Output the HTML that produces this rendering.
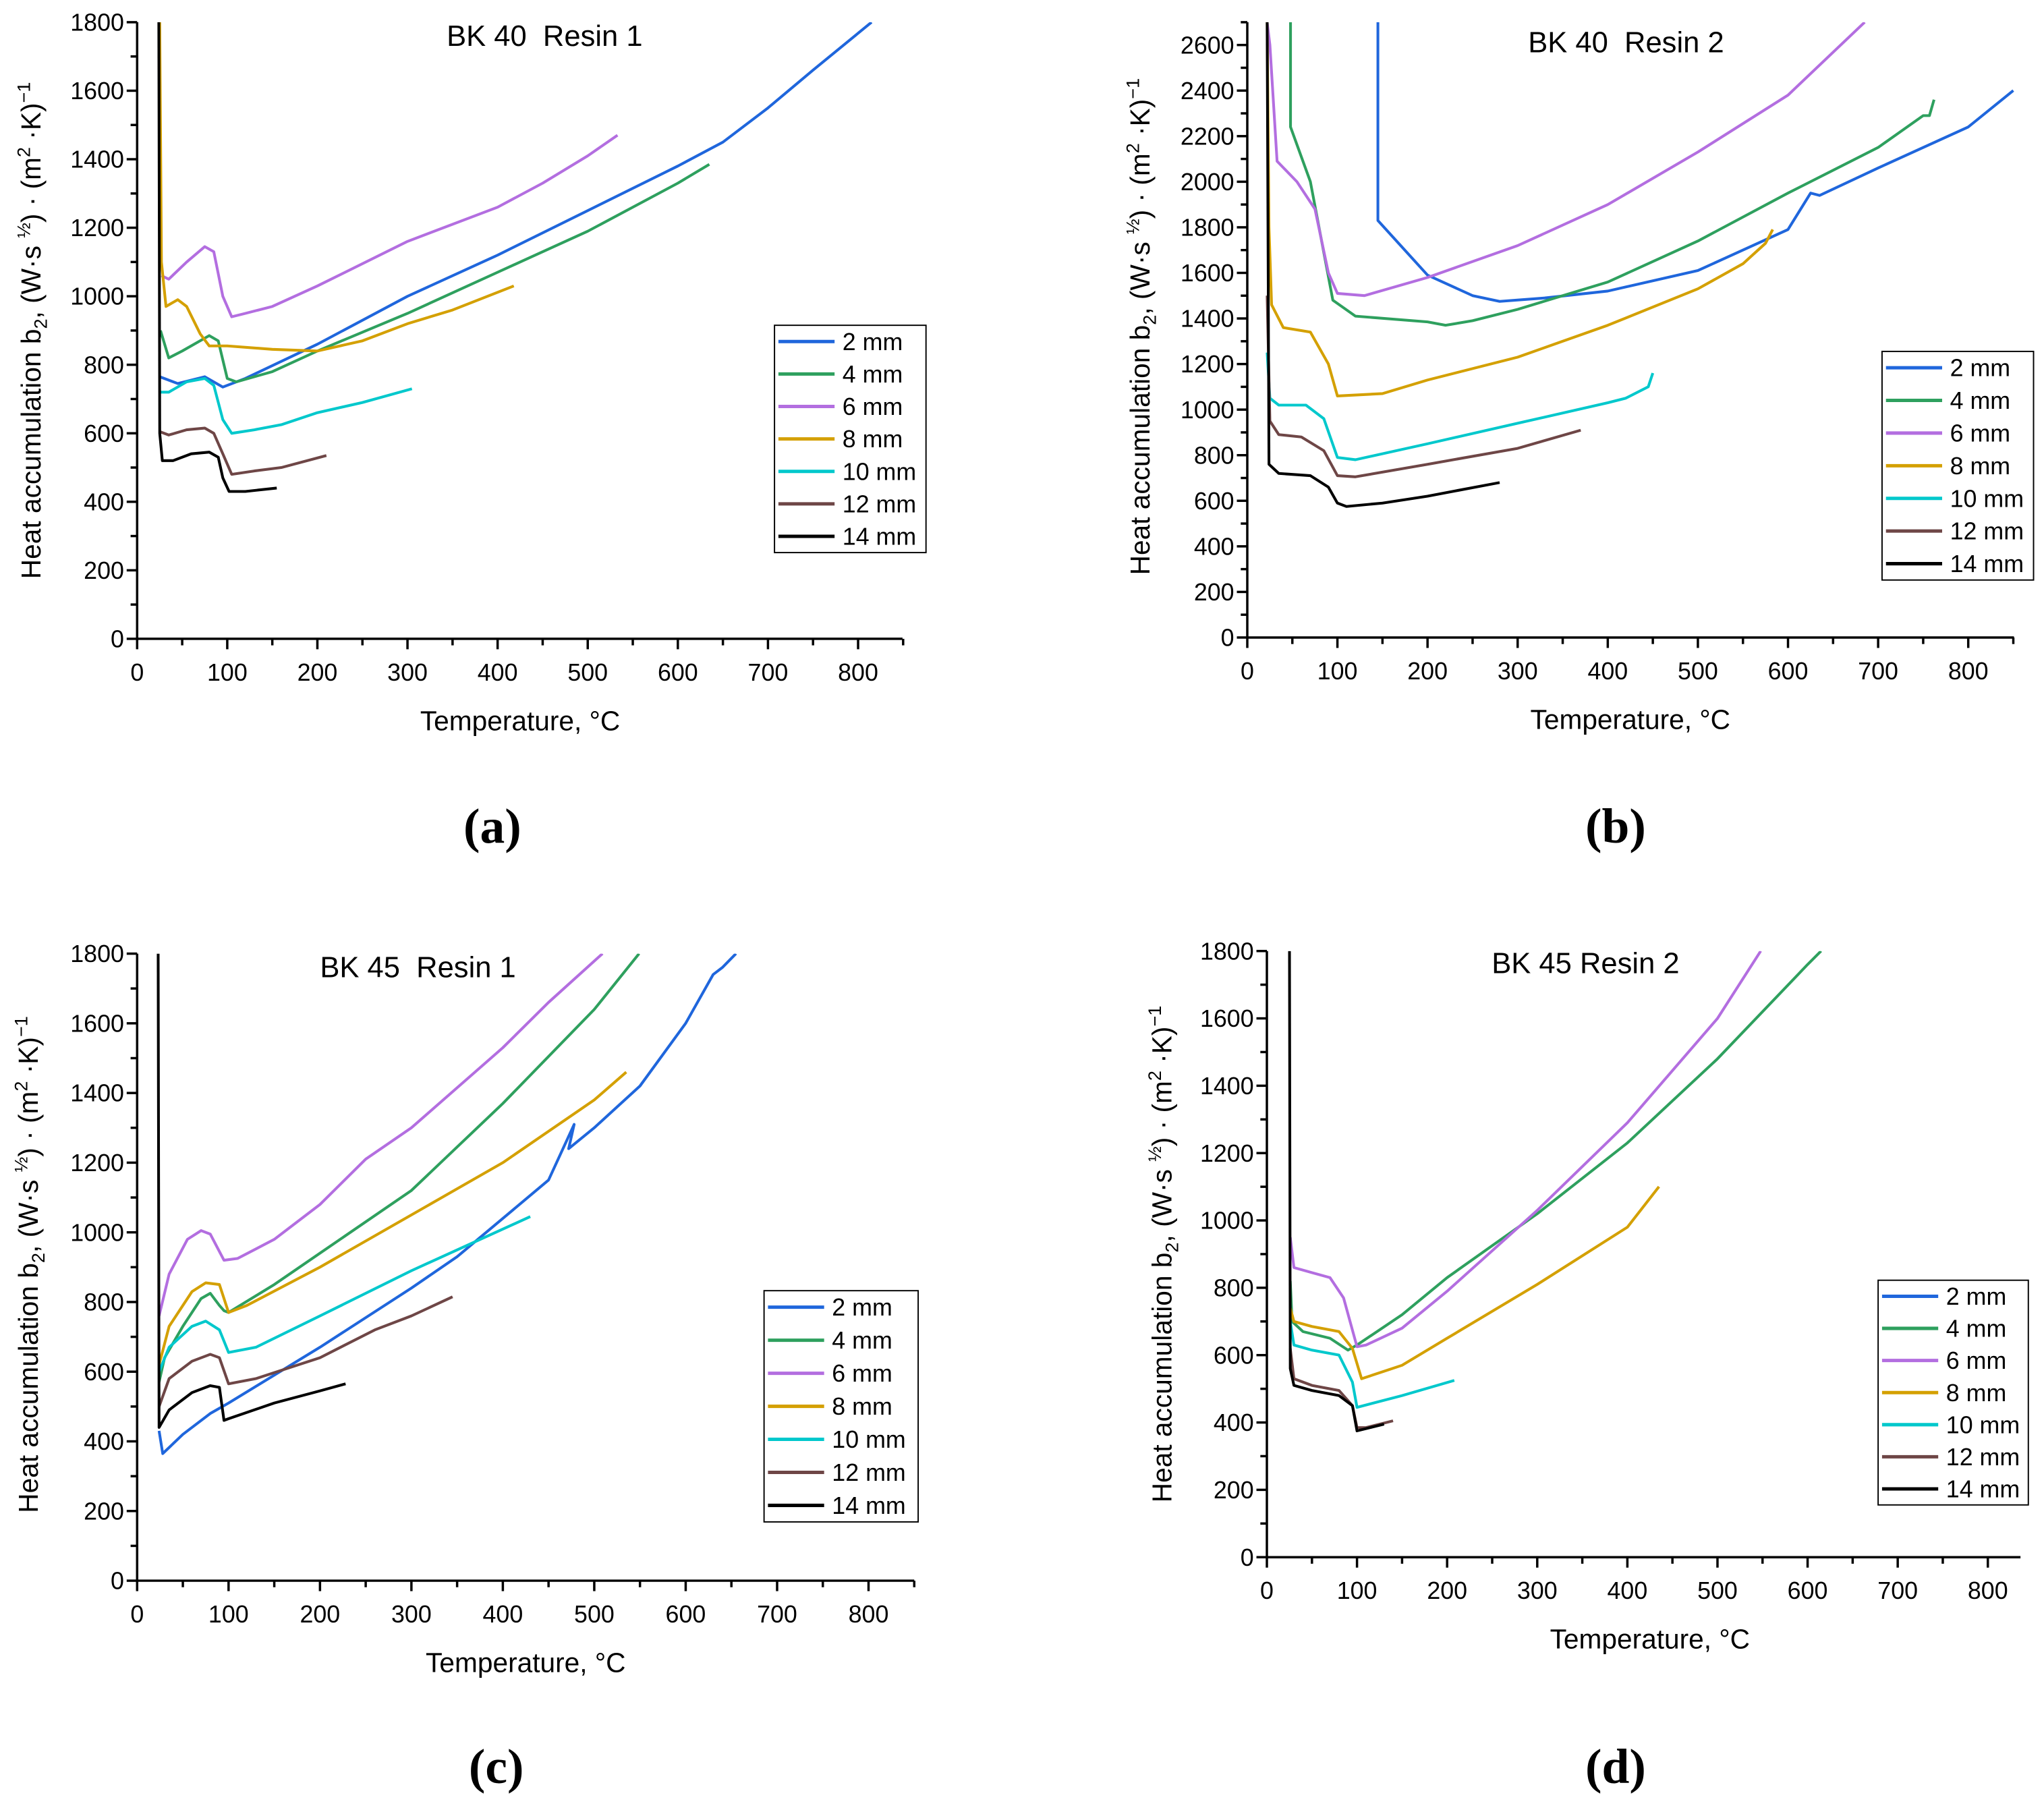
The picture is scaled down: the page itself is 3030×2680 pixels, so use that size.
<!DOCTYPE html>
<html><head><meta charset="utf-8"><style>
html,body{margin:0;padding:0;background:#fff}
svg{display:block}
text{font-family:"Liberation Sans",Arial,sans-serif;fill:#000}
.pl{font-family:"Liberation Serif",serif;font-weight:bold}
</style></head><body>
<svg id="fig" xmlns="http://www.w3.org/2000/svg" width="3030" height="2680" viewBox="0 0 1565 1384" preserveAspectRatio="none"></svg>
<script>
const sizes = ["2 mm","4 mm","6 mm","8 mm","10 mm","12 mm","14 mm"];
const colors = ["#1f66dc","#2ea05e","#b36ee0","#d4a000","#00c8cc","#6e4646","#000000"];
const xTicks = [0,100,200,300,400,500,600,700,800];
// Panel a: BK 40 Resin 1
const a_2 = [[25,765],[45,745],[75,765],[95,735],[120,760],[200,860],[300,1000],[400,1120],[500,1250],[600,1380],[650,1450],[700,1550],[750,1660],[815,1800]];
const a_4 = [[26,900],[35,820],[50,840],[80,885],[90,870],[100,760],[110,750],[150,780],[200,840],[300,950],[400,1070],[500,1190],[600,1330],[635,1385]];
const a_6 = [[27,1060],[35,1050],[55,1100],[75,1145],[85,1130],[95,1000],[105,940],[120,950],[150,970],[200,1030],[300,1160],[400,1260],[450,1330],[500,1410],[533,1470]];
const a_8 = [[25,1800],[27,1100],[32,970],[45,990],[55,970],[70,890],[80,855],[100,855],[150,845],[200,840],[250,870],[300,920],[350,960],[418,1030]];
const a_10 = [[25,720],[35,720],[55,750],[75,760],[85,740],[95,640],[105,600],[130,610],[160,625],[200,660],[250,690],[305,730]];
const a_12 = [[25,605],[35,595],[55,610],[75,615],[85,600],[95,540],[105,480],[130,490],[160,500],[210,535]];
const a_14 = [[24,1800],[25,600],[28,520],[40,520],[60,540],[80,545],[90,530],[95,470],[102,430],[120,430],[155,440]];
// Panel b: BK 40 Resin 2
const b_2 = [[145,2700],[145,1830],[200,1590],[250,1500],[280,1475],[330,1490],[400,1520],[500,1610],[600,1790],[625,1950],[635,1940],[700,2060],[800,2240],[850,2400]];
const b_4 = [[48,2700],[48,2240],[70,2000],[95,1480],[120,1410],[200,1385],[220,1370],[250,1390],[300,1440],[400,1560],[500,1740],[600,1950],[700,2150],[750,2290],[757,2290],[762,2360]];
const b_6 = [[22,2700],[25,2600],[33,2090],[55,2000],[75,1880],[90,1600],[100,1510],[130,1500],[200,1580],[300,1720],[400,1900],[500,2130],[600,2380],[685,2700]];
const b_8 = [[22,2700],[24,1800],[27,1460],[40,1360],[70,1340],[90,1200],[100,1060],[150,1070],[200,1130],[300,1230],[400,1370],[500,1530],[550,1640],[575,1730],[583,1790]];
const b_10 = [[22,1250],[25,1050],[35,1020],[65,1020],[85,960],[100,790],[120,780],[200,850],[300,940],[400,1030],[420,1050],[445,1100],[450,1160]];
const b_12 = [[22,1500],[25,950],[35,890],[60,880],[85,820],[100,710],[120,705],[200,760],[300,830],[370,910]];
const b_14 = [[22,2700],[24,760],[35,720],[70,710],[90,660],[100,590],[110,575],[150,590],[200,620],[280,680]];
// Panel c: BK 45 Resin 1
const c_2 = [[24,430],[28,365],[50,420],[80,480],[100,510],[200,670],[300,840],[350,930],[400,1040],[450,1150],[478,1310],[472,1240],[500,1300],[550,1420],[600,1600],[630,1740],[640,1760],[655,1800]];
const c_4 = [[24,570],[30,640],[50,730],[70,810],[80,825],[90,790],[95,775],[100,770],[150,850],[200,940],[300,1120],[400,1370],[500,1640],[549,1800]];
const c_6 = [[24,760],[35,880],[55,980],[70,1005],[80,995],[95,920],[110,925],[150,980],[200,1080],[250,1210],[300,1300],[400,1530],[450,1660],[509,1800]];
const c_8 = [[24,620],[35,730],[60,830],[75,855],[90,850],[100,770],[120,790],[200,900],[300,1050],[400,1200],[500,1380],[535,1460]];
const c_10 = [[24,600],[35,670],[60,730],[75,745],[90,720],[100,655],[130,670],[200,760],[300,890],[430,1045]];
const c_12 = [[24,500],[35,580],[60,630],[80,650],[90,640],[100,565],[130,580],[200,640],[260,720],[300,760],[345,815]];
const c_14 = [[23,1800],[24,440],[35,490],[60,540],[80,560],[90,555],[95,460],[100,465],[150,510],[200,545],[228,565]];
// Panel d: BK 45 Resin 2
const d_2 = [];
const d_4 = [[26,820],[28,700],[40,670],[70,650],[90,615],[100,630],[150,720],[200,830],[300,1020],[400,1230],[500,1480],[600,1760],[615,1800]];
const d_6 = [[26,950],[30,860],[50,845],[70,830],[85,770],[100,625],[110,630],[150,680],[200,790],[300,1030],[400,1290],[500,1600],[548,1800]];
const d_8 = [[26,740],[30,700],[50,685],[80,670],[95,620],[105,530],[150,570],[200,650],[300,810],[400,980],[435,1100]];
const d_10 = [[26,700],[30,630],[50,615],[80,600],[95,520],[100,445],[150,480],[208,525]];
const d_12 = [[26,620],[30,530],[50,510],[80,495],[95,450],[100,385],[110,385],[140,405]];
const d_14 = [[25,1800],[26,560],[30,510],[50,495],[80,480],[95,450],[100,375],[130,395]];

const NS = "http://www.w3.org/2000/svg";
const svg = document.getElementById("fig");
function mk(tag, parent, attrs){const e=document.createElementNS(NS,tag);for(const k in attrs)e.setAttribute(k,attrs[k]);parent.appendChild(e);return e;}

const panels = [
 {id:"a",title:"BK 40\u00a0 Resin 1",x0:105,xs:0.69,y0:489,ymax:1800,ytop:17,xend:691,ystep:200,tx:417,ty:35,lx:593,ly:249,lw:116,lh:174,label:"(a)",lbx:377,lby:645,ytx:24,yty:253,series:[a_2,a_4,a_6,a_8,a_10,a_12,a_14]},
 {id:"b",title:"BK 40\u00a0 Resin 2",x0:955,xs:0.69,y0:488,ymax:2700,ytop:17,xend:1542,ystep:200,tx:1245,ty:40,lx:1441,ly:269,lw:116,lh:175,label:"(b)",lbx:1237,lby:645,ytx:873,yty:250,series:[b_2,b_4,b_6,b_8,b_10,b_12,b_14]},
 {id:"c",title:"BK 45\u00a0 Resin 1",x0:105,xs:0.70,y0:1210,ymax:1800,ytop:730,xend:700,ystep:200,tx:320,ty:748,lx:585,ly:988,lw:118,lh:177,label:"(c)",lbx:380,lby:1365,ytx:22,yty:968,series:[c_2,c_4,c_6,c_8,c_10,c_12,c_14]},
 {id:"d",title:"BK 45 Resin 2",x0:970,xs:0.69,y0:1192,ymax:1800,ytop:728,xend:1547,ystep:200,tx:1214,ty:745,lx:1438,ly:980,lw:115,lh:172,label:"(d)",lbx:1237,lby:1365,ytx:890,yty:960,series:[d_2,d_4,d_6,d_8,d_10,d_12,d_14]}
];

panels.forEach(p=>{
 const g = mk("g",svg,{});
 
 
 const ppu = (p.y0-p.ytop)/p.ymax;
 const X = t => p.x0 + t*p.xs;
 const Y = v => p.y0 - v*ppu;
 const cp = mk("clipPath",g,{id:"clip-"+p.id});
 mk("rect",cp,{x:p.x0,y:p.ytop,width:p.xend-p.x0,height:p.y0-p.ytop});
 p.series.forEach((s,i)=>{
  if(!s.length) return;
  const pl = mk("polyline",g,{points:s.map(d=>X(d[0]).toFixed(1)+","+Y(d[1]).toFixed(1)).join(" "),fill:"none",stroke:colors[i],"stroke-width":2.1,"stroke-linejoin":"round","clip-path":"url(#clip-"+p.id+")"});
  
  
 });
 const ax = mk("path",g,{d:`M${p.x0},${p.ytop} V${p.y0} H${p.xend}`,fill:"none",stroke:"#000","stroke-width":1.8});
 
 
 for(let t=0;t<=850;t+=50){
  const x=X(t); if(x>p.xend+0.5) break;
  const major = t%100===0;
  mk("line",g,{x1:x,y1:p.y0,x2:x,y2:p.y0+(major?8:5),stroke:"#000","stroke-width":1.8});
 }
 xTicks.forEach(t=>{
  const tl = mk("text",g,{x:X(t),y:p.y0+32,"text-anchor":"middle","font-size":18.5});
  tl.textContent=t;
  
  
 });
 for(let v=0;v<=p.ymax;v+=p.ystep/2){
  const major = v%p.ystep===0;
  mk("line",g,{x1:p.x0,y1:Y(v),x2:p.x0-(major?8:5),y2:Y(v),stroke:"#000","stroke-width":1.8});
  if(major){
   const yl = mk("text",g,{x:p.x0-10,y:Y(v)+6.5,"text-anchor":"end","font-size":18.5});
   yl.textContent=v;
   
   
  }
 }
 const xt = mk("text",g,{x:X(425),y:p.y0+70,"text-anchor":"middle","font-size":21});
 xt.textContent="Temperature, °C";
 
 
 const yt = mk("text",g,{x:0,y:0,"text-anchor":"middle","font-size":21,transform:`translate(${p.ytx+7},${p.yty}) rotate(-90)`});
 yt.innerHTML='Heat accumulation b<tspan font-size="14" dy="5">2</tspan><tspan dy="-5">, (W·s </tspan><tspan font-size="14" dy="-8">½</tspan><tspan dy="8">) · (m</tspan><tspan font-size="14" dy="-8">2</tspan><tspan dy="8"> ·K)</tspan><tspan font-size="14" dy="-8">−1</tspan>';
 
 
 const tt = mk("text",g,{x:p.tx,y:p.ty,"text-anchor":"middle","font-size":22.5});
 tt.textContent=p.title;
 
 
 const lb = mk("text",g,{x:p.lbx,y:p.lby,"text-anchor":"middle","font-size":38,class:"pl"});
 lb.textContent=p.label;
 
 
 const lg = mk("g",g,{});
 
 
 mk("rect",lg,{x:p.lx,y:p.ly,width:p.lw,height:p.lh,fill:"#fff",stroke:"#000","stroke-width":1});
 const rh = p.lh/7;
 sizes.forEach((s,i)=>{
  const cy = p.ly + rh*(i+0.5);
  const le = mk("g",lg,{});
  
  
  mk("line",le,{x1:p.lx+3,y1:cy,x2:p.lx+46,y2:cy,stroke:colors[i],"stroke-width":2.6});
  const t = mk("text",le,{x:p.lx+52,y:cy+6.5,"font-size":18.5});
  t.textContent=s;
 });
});
</script>
</body></html>
